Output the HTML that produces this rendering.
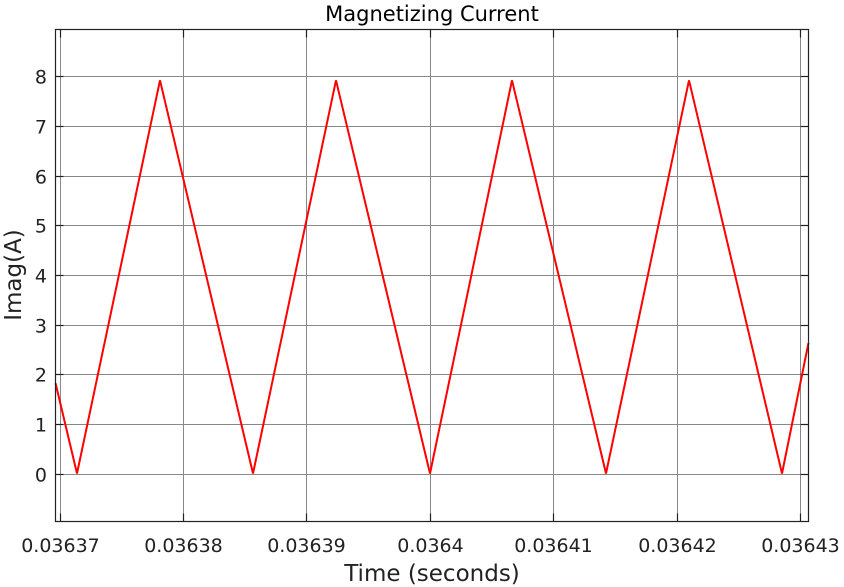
<!DOCTYPE html>
<html><head><meta charset="utf-8"><style>
body{margin:0;background:#fff;}
svg{display:block;font-family:"DejaVu Sans","Liberation Sans",sans-serif;}
</style></head><body>
<svg id="chart" width="844" height="587">
<text x="432" y="21" text-anchor="middle" font-size="21" fill="#000">Magnetizing Current</text>
<g id="grid"></g>
<g id="ticks"></g>
<polyline id="series" fill="none" stroke="#ff0000" stroke-width="2"/>
<rect x="55.5" y="29.5" width="753" height="492" fill="none" stroke="#222" stroke-width="1.2"/>
<text x="432" y="581" text-anchor="middle" font-size="23" fill="#222">Time (seconds)</text>
<text transform="translate(21,275) rotate(-90)" text-anchor="middle" font-size="23" fill="#222">Imag(A)</text>
</svg>
<script>
const times=[0.03636968,0.03637142,0.03637814,0.03638567,0.03639239,0.03640000,0.03640664,0.03641425,0.03642097,0.03642850,0.03643065];
const currents=[1.82,0.0,7.92,0.0,7.92,0.0,7.92,0.0,7.92,0.0,2.63];
const xTicks=[0.03637,0.03638,0.03639,0.0364,0.03641,0.03642,0.03643];
const xTickLabels=["0.03637","0.03638","0.03639","0.0364","0.03641","0.03642","0.03643"];
const yTicks=[0,1,2,3,4,5,6,7,8];
const ns="http://www.w3.org/2000/svg";
const L=55.5,R=808.5,T=29.5,B=521.5;
function xs(t){return 59.5+(t-0.03637)*12350000;}
function ys(v){return 473.5-v*49.65;}
const grid=document.getElementById('grid'),ticks=document.getElementById('ticks');
function line(p,x1,y1,x2,y2,c,w){const l=document.createElementNS(ns,'line');l.setAttribute('x1',x1);l.setAttribute('y1',y1);l.setAttribute('x2',x2);l.setAttribute('y2',y2);l.setAttribute('stroke',c);l.setAttribute('stroke-width',w);p.appendChild(l);return l;}
xTicks.forEach((t,i)=>{const x=Math.round(xs(t))+0.5;
const g=line(grid,x,T,x,B,'#888',1);


line(ticks,x,T,x,T+8,'#222',1.2);line(ticks,x,B,x,B-8,'#222',1.2);
const tx=document.createElementNS(ns,'text');tx.setAttribute('x',x);tx.setAttribute('y',552);tx.setAttribute('text-anchor','middle');tx.setAttribute('font-size','19');tx.setAttribute('fill','#222');tx.textContent=xTickLabels[i];


ticks.appendChild(tx);});
yTicks.forEach(v=>{const y=Math.round(ys(v))+0.5;
const g=line(grid,L,y,R,y,'#888',1);


line(ticks,L,y,L+8,y,'#222',1.2);line(ticks,R,y,R-8,y,'#222',1.2);
const tx=document.createElementNS(ns,'text');tx.setAttribute('x',47);tx.setAttribute('y',y+7);tx.setAttribute('text-anchor','end');tx.setAttribute('font-size','19');tx.setAttribute('fill','#222');tx.textContent=String(v);


ticks.appendChild(tx);});
document.getElementById('series').setAttribute('points',times.map((t,i)=>xs(t).toFixed(1)+','+ys(currents[i]).toFixed(1)).join(' '));
</script>
</body></html>
